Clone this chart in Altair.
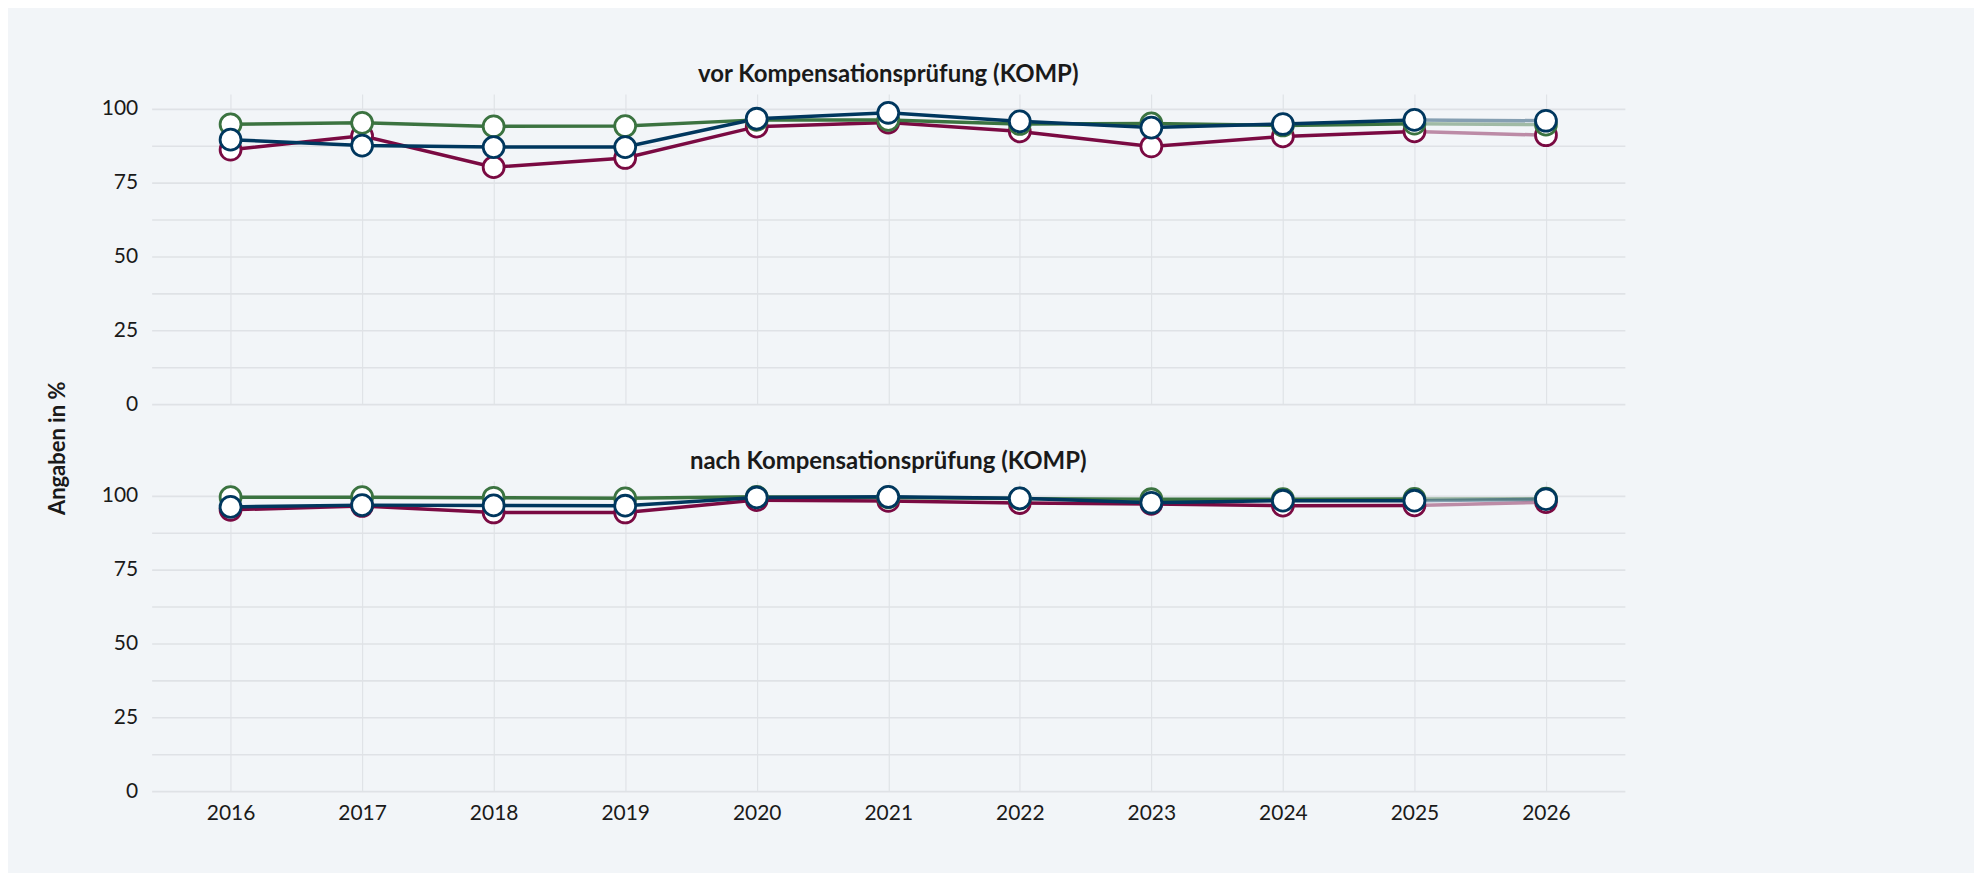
import altair as alt
import pandas as pd

years = [2016, 2017, 2018, 2019, 2020, 2021, 2022, 2023, 2024, 2025, 2026]
panels = ["vor Kompensationsprüfung (KOMP)", "nach Kompensationsprüfung (KOMP)"]
series = ["Reihe 1", "Reihe 2", "Reihe 3"]
colors = ["#7a0a42", "#3b7340", "#00375e"]

vor_r1 = [86.1, 90.8, 80.2, 83.3, 93.9, 95.3, 92.3, 87.2, 90.6, 92.3, 91.0]
vor_r2 = [94.7, 95.2, 94.0, 94.1, 96.2, 96.2, 94.8, 95.0, 94.3, 94.9, 94.6]
vor_r3 = [89.5, 87.5, 87.0, 87.0, 96.6, 98.6, 95.7, 93.6, 94.8, 96.2, 95.9]

nach_r1 = [95.2, 96.5, 94.3, 94.3, 98.5, 98.2, 97.5, 97.2, 96.6, 96.7, 97.8]
nach_r2 = [99.5, 99.5, 99.3, 99.1, 99.6, 99.4, 99.0, 98.8, 98.8, 98.9, 99.0]
nach_r3 = [96.2, 96.8, 96.7, 96.6, 99.4, 99.6, 99.1, 97.6, 98.3, 98.3, 98.8]

y_ticks = [0, 12.5, 25, 37.5, 50, 62.5, 75, 87.5, 100]

rows = []
for panel, vals in [(panels[0], [vor_r1, vor_r2, vor_r3]), (panels[1], [nach_r1, nach_r2, nach_r3])]:
    for s, v in zip(series, vals):
        for yr, val in zip(years, v):
            rows.append({"panel": panel, "series": s, "year": yr, "value": val})
df = pd.DataFrame(rows)

FONT = "Lato"

x_enc = alt.X(
    "year:O",
    title=None,
    scale=alt.Scale(type="point", padding=0.6),
    axis=alt.Axis(labelAngle=0, ticks=False, domain=False, labelPadding=11,
                  labelFontSize=21, labelColor="#1a1a1a", grid=True,
                  gridColor="#e0e3e7", gridWidth=1.2),
)
y_enc = alt.Y(
    "value:Q",
    title=None,
    scale=alt.Scale(domain=[0, 105], nice=False, zero=True),
    axis=alt.Axis(values=y_ticks, labelExpr="datum.value % 25 == 0 ? datum.label : ''",
                  ticks=False, domain=False, labelPadding=14, labelFontSize=21,
                  labelColor="#1a1a1a", gridColor="#dfe2e6", gridWidth=1.6),
)
color_enc = alt.Color("series:N", scale=alt.Scale(domain=series, range=colors), legend=None)

base = alt.Chart().encode(x=x_enc, y=y_enc, color=color_enc)

solid = base.transform_filter("datum.year <= 2025").mark_line(strokeWidth=3.5)
faded = base.transform_filter("datum.year >= 2025").mark_line(strokeWidth=3.5, opacity=0.45)
pts = base.mark_point(shape="circle", filled=False, fill="white", fillOpacity=1,
                      size=440, strokeWidth=2.8, opacity=1)

y_title = "Angaben in %" + "\u00a0" * 8 + "\u200b"

chart = alt.layer(solid, faded, pts, data=df).properties(width=1477, height=311).facet(
    row=alt.Row("panel:N", sort=panels, title=y_title,
                header=alt.Header(labelOrient="top", labelFontSize=24, labelFontWeight="bold",
                                  labelColor="#1a1a1a", labelPadding=7, labelFont=FONT,
                                  titleFontSize=22, titleFontWeight="bold", titleColor="#1a1a1a",
                                  titleFont=FONT, titlePadding=21))
).resolve_scale(x="shared", y="shared").configure(
    background="#f2f5f8",
    padding={"left": 38, "top": 54, "right": 350, "bottom": 49},
    font=FONT,
).configure_view(stroke=None).configure_facet(spacing=45)

chart.save("out.html", embed_options={"renderer": "svg", "actions": False})
